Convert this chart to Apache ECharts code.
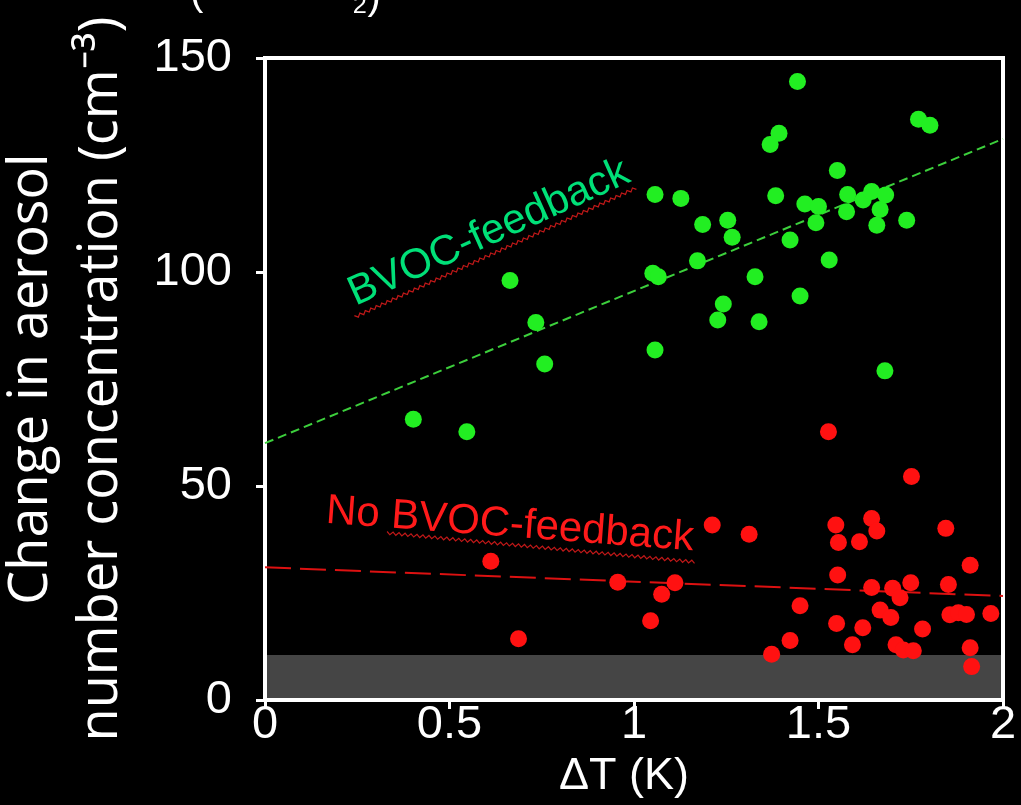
<!DOCTYPE html>
<html>
<head>
<meta charset="utf-8">
<script src="https://cdn.jsdelivr.net/npm/echarts@6/dist/echarts.min.js"></script>
<style>
  html, body { margin: 0; padding: 0; background: #000; }
  #main { width: 1021px; height: 805px; }
</style>
</head>
<body>
<div id="main"></div>
<script>
// BVOC-feedback runs (green)
var greenX = [0.402, 0.547, 0.664, 0.734, 0.758, 1.051, 1.066, 1.057, 1.057, 1.127, 1.172, 1.186, 1.227, 1.242,
  1.254, 1.266, 1.328, 1.339, 1.369, 1.384, 1.393, 1.423, 1.443, 1.45, 1.463, 1.493, 1.5, 1.529, 1.551, 1.576,
  1.579, 1.621, 1.644, 1.658, 1.667, 1.68, 1.682, 1.739, 1.771, 1.802];
var greenY = [65.6, 62.7, 98.0, 88.2, 78.5, 99.7, 98.9, 118.1, 81.8, 117.2, 102.6, 111.1, 88.8, 92.5,
  112.1, 108.1, 98.9, 88.4, 129.8, 117.8, 132.4, 107.5, 144.5, 94.4, 115.9, 111.5, 115.3, 102.8, 123.7, 114.1,
  118.1, 116.8, 118.8, 110.9, 114.6, 76.9, 118.0, 112.1, 135.7, 134.3];

// No BVOC-feedback runs (red)
var redX = [0.612, 0.687, 0.956, 1.045, 1.075, 1.111, 1.212, 1.312, 1.373, 1.423, 1.45, 1.527, 1.547, 1.552,
  1.554, 1.549, 1.592, 1.611, 1.62, 1.644, 1.644, 1.658, 1.667, 1.696, 1.701, 1.71, 1.721, 1.73, 1.75, 1.752,
  1.757, 1.782, 1.845, 1.852, 1.856, 1.879, 1.901, 1.911, 1.911, 1.915, 1.967];
var redY = [32.4, 14.3, 27.5, 18.5, 24.7, 27.4, 40.9, 38.7, 10.7, 13.9, 22.0, 62.7, 40.9, 29.2,
  36.8, 17.9, 12.9, 37.0, 16.9, 42.4, 26.3, 39.5, 21.0, 19.3, 26.1, 12.9, 23.9, 11.7, 27.4, 52.2,
  11.5, 16.6, 40.1, 27.0, 19.9, 20.4, 20.0, 31.5, 12.2, 7.8, 20.2];

// fitted lines (end points at dT = 0 and 2)
var fitX = [0, 2];
var greenFit = [60.0, 131.1];
var redFit = [31.0, 24.3];

// shaded band (noise level)
var bandTop = 10.5;

var xTicks = [0, 0.5, 1, 1.5, 2];
var yTicks = [0, 50, 100, 150];

function pairs(xs, ys) {
  var out = [];
  for (var i = 0; i < xs.length; i++) out.push([xs[i], ys[i]]);
  return out;
}

// spell-check style wavy underline (decoration only)
function squiggle(x0, y0, x1, y1) {
  var dx = x1 - x0, dy = y1 - y0;
  var len = Math.sqrt(dx * dx + dy * dy);
  var ux = dx / len, uy = dy / len;
  var nx = -uy, ny = ux;
  var pts = [];
  var step = 3;
  for (var s = 0, k = 0; s <= len; s += step, k++) {
    var off = (k % 2 === 0) ? -1.5 : 1.5;
    pts.push([x0 + ux * s + nx * off, y0 + uy * s + ny * off]);
  }
  return pts;
}

var chart = echarts.init(document.getElementById('main'));
var tickFont = 'Liberation Sans, Arial, sans-serif';

var option = {
  backgroundColor: '#000',
  animation: false,
  grid: {
    left: 265, right: 18, top: 58, bottom: 105,
    show: true, borderColor: '#fff', borderWidth: 4,
    outerBoundsMode: 'none'
  },
  xAxis: [
    {
      type: 'value', min: 0, max: 2, interval: 0.5,
      axisLine: { show: false }, axisTick: { show: false }, splitLine: { show: false },
      axisLabel: {
        color: '#fff', fontSize: 47, fontFamily: tickFont, margin: 2,
        formatter: function (v) { return xTicks.indexOf(v) >= 0 ? String(v) : ''; }
      },
      name: 'ΔT (K)', nameLocation: 'middle', nameGap: 48,
      nameTextStyle: { color: '#fff', fontSize: 45, fontFamily: tickFont, padding: [0, 20, 0, 0] }
    },
    {
      type: 'value', min: 0, max: 2, interval: 0.5, position: 'top',
      axisLine: { show: false }, splitLine: { show: false }, axisLabel: { show: false },
      axisTick: { show: true, inside: true, length: 9, lineStyle: { color: '#fff', width: 3 } }
    }
  ],
  yAxis: [
    {
      type: 'value', min: 0, max: 150, interval: 50,
      axisLine: { show: false }, axisTick: { show: false }, splitLine: { show: false },
      axisLabel: {
        color: '#fff', fontSize: 47, fontFamily: tickFont, margin: 33,
        formatter: function (v) { return yTicks.indexOf(v) >= 0 ? String(v) : ''; }
      },
      name: 'Change in aerosol\nnumber concentration (cm⁻³)',
      nameLocation: 'middle', nameRotate: 90, nameGap: 128,
      nameTextStyle: { color: '#fff', fontSize: 54, lineHeight: 70, fontFamily: 'Open Sans, sans-serif' }
    },
    {
      type: 'value', min: 0, max: 150, interval: 50, position: 'right',
      axisLine: { show: false }, splitLine: { show: false }, axisLabel: { show: false },
      axisTick: { show: true, inside: true, length: 9, lineStyle: { color: '#fff', width: 3 } }
    }
  ],
  series: [
    {
      type: 'line', data: pairs(fitX, greenFit), symbol: 'none', z: 2,
      lineStyle: { color: '#3ccf3c', width: 2, type: [9, 5] }
    },
    {
      type: 'line', data: pairs(fitX, redFit), symbol: 'none', z: 2,
      lineStyle: { color: '#dd1111', width: 2, type: [26, 9] }
    },
    {
      type: 'scatter', data: pairs(greenX, greenY), symbolSize: 17, z: 3,
      itemStyle: { color: '#22ee22', opacity: 1 }
    },
    {
      type: 'scatter', data: pairs(redX, redY), symbolSize: 17, z: 3,
      itemStyle: { color: '#ff1111', opacity: 1 }
    },
    {
      type: 'line', data: [], z: 10,
      markArea: {
        silent: true,
        itemStyle: { color: 'rgba(255,255,255,0.27)' },
        data: [[{ coord: [0, 0] }, { coord: [2, bandTop] }]]
      }
    }
  ],
  graphic: [
    {
      type: 'text', x: 489, y: 233, rotation: 24.3 * Math.PI / 180, z: 20,
      style: { text: 'BVOC-feedback', fill: '#00e078', fontSize: 42, fontFamily: tickFont, align: 'center', verticalAlign: 'middle' }
    },
    {
      type: 'text', x: 510, y: 525, rotation: -4.3 * Math.PI / 180, z: 20,
      style: { text: 'No BVOC-feedback', fill: '#ff1a1a', fontSize: 42, fontFamily: tickFont, align: 'center', verticalAlign: 'middle' }
    },
    {
      type: 'polyline', z: 20, silent: true,
      shape: { points: squiggle(355, 317, 638, 187) },
      style: { stroke: '#c01818', lineWidth: 1.2, fill: null }
    },
    {
      type: 'polyline', z: 20, silent: true,
      shape: { points: squiggle(387, 533, 695, 562) },
      style: { stroke: '#c01818', lineWidth: 1.2, fill: null }
    },
    {
      type: 'text', x: 190, y: -26, z: 20,
      style: { text: '(', fill: '#fff', fontSize: 40, fontFamily: tickFont }
    },
    {
      type: 'text', x: 352, y: -22, z: 20,
      style: { text: '₂)', fill: '#fff', fontSize: 40, fontFamily: tickFont }
    }
  ]
};

chart.setOption(option);
window.addEventListener('resize', chart.resize);
</script>
</body>
</html>
